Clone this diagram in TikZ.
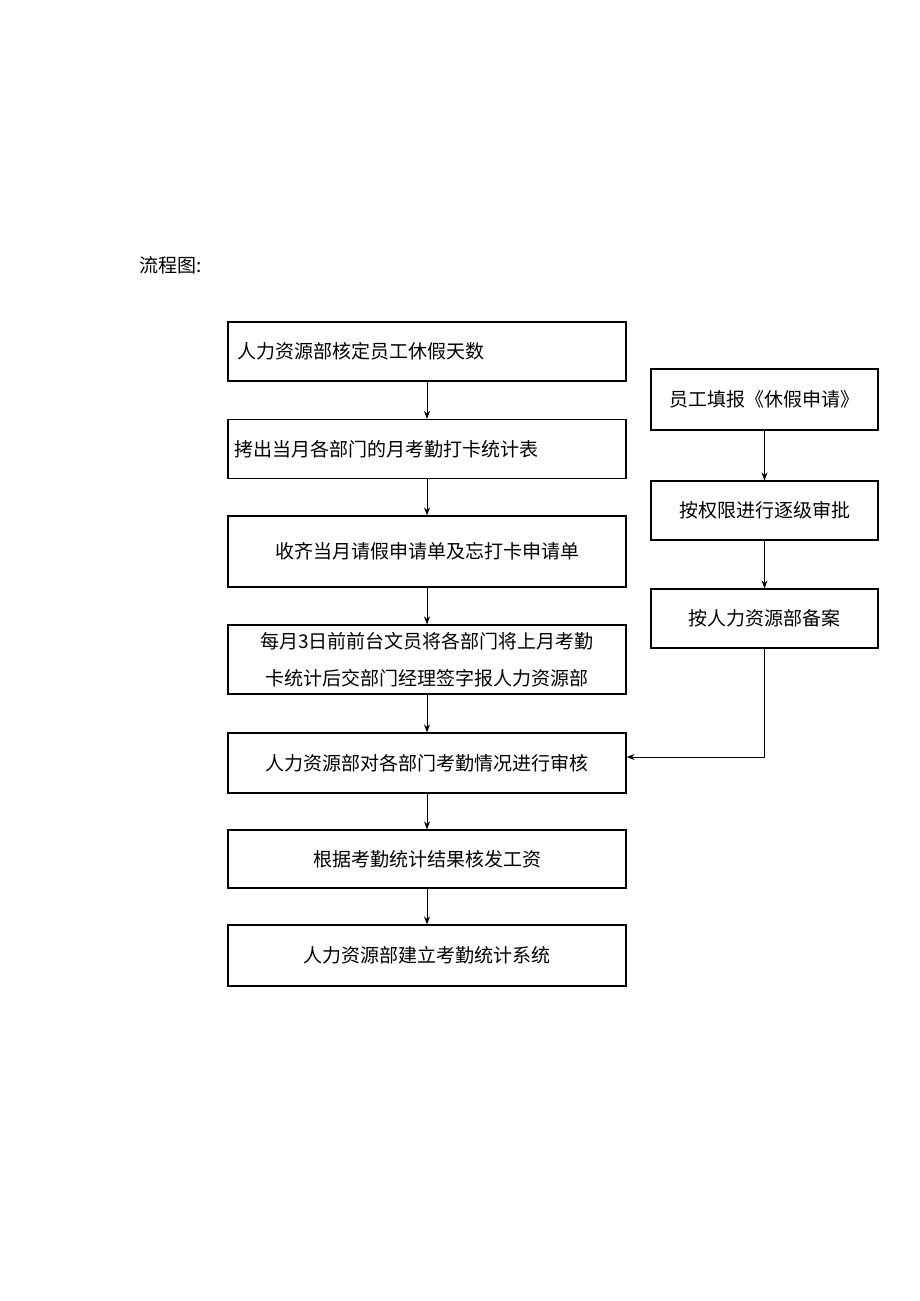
\documentclass[tikz,border=0pt]{standalone}
\usepackage{fontspec}
\setmainfont{Noto Sans CJK SC}
\usetikzlibrary{arrows.meta}
\tikzset{
  flowbox/.style={draw, line width=1.2pt, minimum height=59pt, inner sep=0pt, font=\fontsize{19}{37}\selectfont},
  flowarrow/.style={line width=1pt, -{Stealth[length=8pt,width=6pt]}}
}
\begin{document}
\begin{tikzpicture}[x=1pt,y=-1pt]
  \useasboundingbox (0,0) rectangle (920,1301);
  %Title
  \node[anchor=west, font=\fontsize{19}{24}\selectfont] (title) at (136,265) {流程图:};
  %Left column
  \node[flowbox, minimum width=398pt, text width=380pt, align=left] (hrdays) at (427,351.5) {人力资源部核定员工休假天数};
  \node[flowbox, minimum width=398pt, text width=386pt, align=left] (export) at (427,449) {拷出当月各部门的月考勤打卡统计表};
  \node[flowbox, minimum width=398pt, minimum height=71pt] (collect) at (427,551.5) {收齐当月请假申请单及忘打卡申请单};
  \node[flowbox, minimum width=398pt, minimum height=69pt, text width=396pt, align=center] (report) at (427,659.5) {每月3日前前台文员将各部门将上月考勤\\卡统计后交部门经理签字报人力资源部};
  \node[flowbox, minimum width=398pt, minimum height=60pt] (audit) at (427,763) {人力资源部对各部门考勤情况进行审核};
  \node[flowbox, minimum width=398pt, minimum height=58pt] (salary) at (427,859) {根据考勤统计结果核发工资};
  \node[flowbox, minimum width=398pt, minimum height=61pt] (system) at (427,955.5) {人力资源部建立考勤统计系统};
  %Right column
  \node[flowbox, minimum width=227pt, minimum height=61pt] (apply) at (764.5,399.5) {员工填报《休假申请》};
  \node[flowbox, minimum width=227pt] (approve) at (764.5,510.5) {按权限进行逐级审批};
  \node[flowbox, minimum width=227pt] (file) at (764.5,618.5) {按人力资源部备案};
  %Arrows
  \draw[flowarrow] (hrdays) -- (export);
  \draw[flowarrow] (export) -- (collect);
  \draw[flowarrow] (collect) -- (report);
  \draw[flowarrow] (report) -- (audit);
  \draw[flowarrow] (audit) -- (salary);
  \draw[flowarrow] (salary) -- (system);
  \draw[flowarrow] (apply) -- (approve);
  \draw[flowarrow] (approve) -- (file);
  \draw[flowarrow] (file.south) |- (audit.east |- 0,757);
\end{tikzpicture}
\end{document}
